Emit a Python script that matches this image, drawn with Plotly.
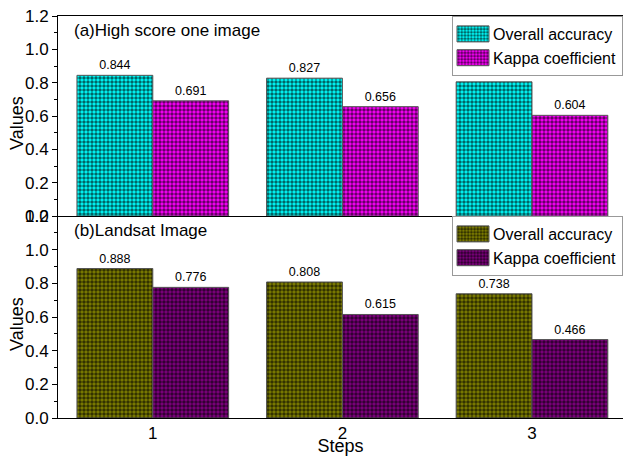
import plotly.graph_objects as go

steps = [1, 2, 3]
oa_high = [0.844, 0.827, 0.805]
kappa_high = [0.691, 0.656, 0.604]
oa_landsat = [0.888, 0.808, 0.738]
kappa_landsat = [0.776, 0.615, 0.466]
y_ticks = [0.0, 0.2, 0.4, 0.6, 0.8, 1.0, 1.2]

FONT = "Liberation Sans, Arial, sans-serif"
W, H = 623, 456
L, R, T, B = 58, 0, 16, 38
PH = 418 - 16
split = (418 - 216) / PH

fig = go.Figure()

def add_bar(y, name, bg, xaxis, yaxis, legend):
    fig.add_trace(go.Bar(
        x=steps, y=y, name=name, xaxis=xaxis, yaxis=yaxis, legend=legend,
        marker=dict(color=bg, line=dict(color="#555555", width=1),
                    pattern=dict(shape=".", fgcolor="#000000", fgopacity=0.6, bgcolor=bg,
                                 size=4, solidity=0.6, fillmode="overlay")),
        text=[f"{v:.3f}" for v in y], textposition="outside",
        textfont=dict(family=FONT, size=12.5, color="#000000"),
        cliponaxis=False,
    ))

add_bar(oa_high, "Overall accuracy", "#00FFFF", "x2", "y2", "legend")
add_bar(kappa_high, "Kappa coefficient", "#FF00FF", "x2", "y2", "legend")
add_bar(oa_landsat, "Overall accuracy", "#808000", "x", "y", "legend2")
add_bar(kappa_landsat, "Kappa coefficient", "#800080", "x", "y", "legend2")

xr = [0.5, 3.48]
axis_common = dict(showgrid=False, zeroline=False, showline=True, linecolor="#000000",
                   linewidth=1, ticks="outside", ticklen=5, tickcolor="#000000",
                   tickfont=dict(family=FONT, size=17, color="#000000"))
yaxis_common = dict(axis_common, range=[0, 1.2], tickvals=y_ticks,
                    ticktext=[f"{v:.1f}" for v in y_ticks],
                    minor=dict(ticks="outside", ticklen=3, dtick=0.1, tickcolor="#000000"))

legend_common = dict(x=1, xanchor="right", yanchor="top", bgcolor="white",
                     bordercolor="#999999", borderwidth=1,
                     font=dict(family=FONT, size=16, color="#000000"),
                     tracegroupgap=0)

title_font = dict(family=FONT, size=18, color="#000000")

fig.update_layout(
    width=W, height=H,
    margin=dict(l=L, r=R, t=T, b=B),
    paper_bgcolor="white", plot_bgcolor="white",
    barmode="group", bargap=0.2, bargroupgap=0,
    font=dict(family=FONT, color="#000000"),
    showlegend=True,
    xaxis=dict(axis_common, domain=[0, 1], range=xr, tickvals=steps, ticktext=["1", "2", "3"],
               mirror=False, ticks="", anchor="y",
               title=dict(text="Steps", font=title_font, standoff=0)),
    yaxis=dict(yaxis_common, domain=[0, split], anchor="x"),
    xaxis2=dict(axis_common, domain=[0, 1], range=xr, tickvals=steps, showticklabels=False,
                ticks="", mirror=True, anchor="y2"),
    yaxis2=dict(yaxis_common, domain=[split, 1], anchor="x2"),
    legend=dict(legend_common, y=1),
    legend2=dict(legend_common, y=split),
    annotations=[
        dict(text="(a)High score one image", xref="paper", yref="paper", x=0.025, y=0.963,
             xanchor="left", yanchor="middle", showarrow=False,
             font=dict(family=FONT, size=17, color="#000000")),
        dict(text="(b)Landsat Image", xref="paper", yref="paper", x=0.025, y=split - 0.037,
             xanchor="left", yanchor="middle", showarrow=False,
             font=dict(family=FONT, size=17, color="#000000")),
        dict(text="Values", xref="paper", yref="paper", x=0, xshift=-41,
             y=(418 - 123) / PH, textangle=-90, xanchor="center", yanchor="middle",
             showarrow=False, font=title_font),
        dict(text="Values", xref="paper", yref="paper", x=0, xshift=-41,
             y=(418 - 324) / PH, textangle=-90, xanchor="center", yanchor="middle",
             showarrow=False, font=title_font),
    ],
)

post = """
document.body.style.margin='0';
document.body.style.overflow='hidden';
var gd = document.getElementById('{plot_id}');
function fixLegend(){
  gd.querySelectorAll('.legendpoints path').forEach(function(p){
    p.setAttribute('d','M16,8H-16V-8H16Z');
  });
}
fixLegend();
gd.on('plotly_afterplot', fixLegend);
setTimeout(fixLegend, 100);
setTimeout(fixLegend, 500);
"""

fig.write_html("out.html", post_script=post, config={"displayModeBar": False})
